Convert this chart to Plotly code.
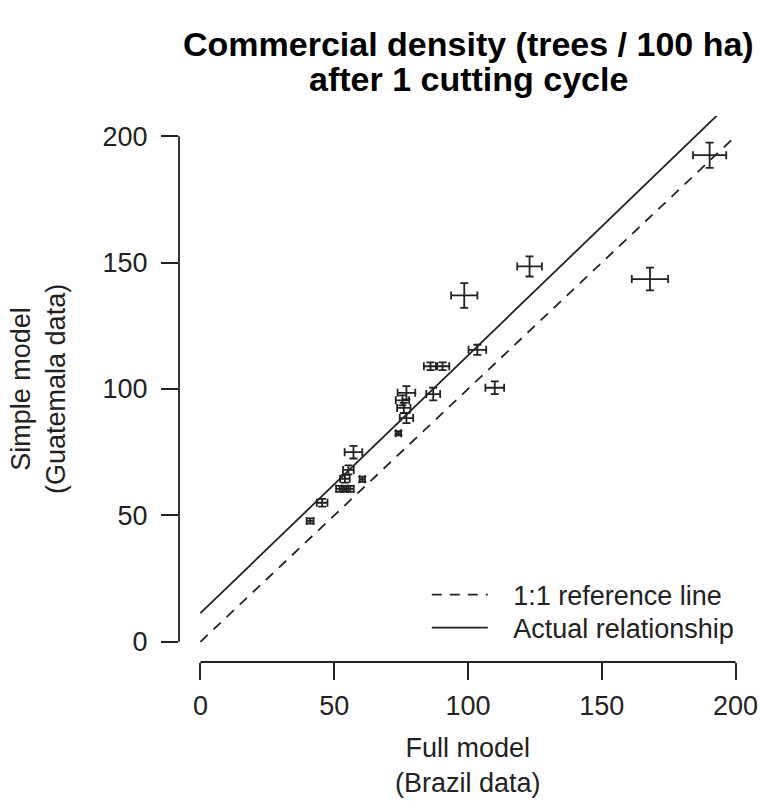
import plotly.graph_objects as go

# Data (Full model = Brazil data, Simple model = Guatemala data)
full_x = [41.0, 45.5, 52.0, 54.0, 56.0, 54.0, 55.3, 57.2, 60.5, 74.0, 77.0, 76.0,
          75.5, 77.0, 87.0, 86.0, 90.5, 103.5, 110.0, 98.6, 123.0, 168.0, 190.3]
simple_y = [47.8, 55.0, 60.5, 60.5, 60.5, 64.5, 68.0, 75.0, 64.3, 82.5, 88.5, 92.5,
            95.5, 98.5, 98.0, 109.0, 109.0, 115.5, 100.5, 137.0, 148.5, 143.5, 192.5]
full_err = [1.3, 2.0, 1.3, 1.3, 1.3, 1.8, 2.0, 3.3, 1.0, 1.0, 2.5, 2.5,
            2.5, 3.3, 2.6, 2.5, 2.5, 3.3, 3.5, 4.9, 4.6, 6.8, 6.2]
simple_err = [1.0, 1.5, 1.2, 1.2, 1.2, 1.5, 1.8, 2.5, 1.0, 0.8, 2.0, 2.0,
              2.0, 2.6, 2.5, 1.5, 1.5, 2.0, 2.5, 4.9, 4.0, 4.5, 5.0]

ref_x = [0, 200]
ref_y = [0, 200]
fit_intercept = 11.3
fit_slope = 1.02
fit_x = [0, 200]
fit_y = [fit_intercept + fit_slope * v for v in fit_x]

tick_vals = [0, 50, 100, 150, 200]
tick_text = ["0", "50", "100", "150", "200"]

FONT = "Liberation Sans, Arial, Helvetica, sans-serif"
INK = "#222222"
NB = "\u00a0\u00a0\u2009"

fig = go.Figure()
fig.add_trace(go.Scatter(
    x=ref_x, y=ref_y, mode="lines", name=NB + "1:1 reference line", legend="legend",
    line=dict(color=INK, width=1.8, dash="10px,8px"),
))
fig.add_trace(go.Scatter(
    x=fit_x, y=fit_y, mode="lines", name=NB + "Actual relationship", legend="legend2",
    line=dict(color=INK, width=1.8),
))
fig.add_trace(go.Scatter(
    x=full_x, y=simple_y, mode="markers", showlegend=False,
    marker=dict(size=1, color="rgba(0,0,0,0)"),
    error_x=dict(type="data", array=full_err, visible=True, color=INK, thickness=1.8, width=4),
    error_y=dict(type="data", array=simple_err, visible=True, color=INK, thickness=1.8, width=4),
))

axis_common = dict(
    range=[-8, 208], showgrid=False, zeroline=False, showline=False,
    ticks="outside", ticklen=17, tickwidth=1.8, tickcolor=INK,
    tickvals=tick_vals, ticktext=tick_text,
    tickfont=dict(family=FONT, size=27, color=INK),
    automargin=False,
)
fig.update_xaxes(**axis_common, ticklabelstandoff=3)
fig.update_yaxes(**axis_common, ticklabelstandoff=8)

# R-style axis lines spanning only the tick range
fig.add_shape(type="line", xref="x", yref="paper", x0=0, x1=200, y0=0, y1=0,
              line=dict(color=INK, width=1.8))
fig.add_shape(type="line", xref="paper", yref="y", x0=0, x1=0, y0=0, y1=200,
              line=dict(color=INK, width=1.8))

fig.add_annotation(
    text="Simple model<br>(Guatemala data)", textangle=-90,
    xref="paper", yref="paper", x=-0.244, y=0.5, xanchor="center", yanchor="middle",
    showarrow=False, font=dict(family=FONT, size=27, color=INK),
)
fig.add_annotation(
    text="Full model<br>(Brazil data)",
    xref="paper", yref="paper", x=0.5, y=-0.19, xanchor="center", yanchor="middle",
    showarrow=False, font=dict(family=FONT, size=27, color=INK),
)
fig.add_annotation(
    text="<b>Commercial density (trees / 100 ha)</b>",
    xref="paper", yref="paper", x=0.5, y=1.132, xanchor="center", yanchor="middle",
    showarrow=False, font=dict(family=FONT, size=34, color="black"),
)
fig.add_annotation(
    text="<b>after 1 cutting cycle</b>",
    xref="paper", yref="paper", x=0.5, y=1.068, xanchor="center", yanchor="middle",
    showarrow=False, font=dict(family=FONT, size=34, color="black"),
)

legend_common = dict(
    x=0.4287, xanchor="left", yanchor="middle",
    bgcolor="rgba(0,0,0,0)", borderwidth=0,
    font=dict(family=FONT, size=27, color=INK),
    itemwidth=56,
)

fig.update_layout(
    width=760, height=801,
    margin=dict(l=179, r=3, t=116, b=139),
    paper_bgcolor="white", plot_bgcolor="white",
    legend=dict(**legend_common, y=0.1227),
    legend2=dict(**legend_common, y=0.0623),
    showlegend=True,
)

fig.write_html(
    "out.html",
    config={"displayModeBar": False},
    post_script="document.body.style.margin='0px';document.body.style.overflow='hidden';",
)
